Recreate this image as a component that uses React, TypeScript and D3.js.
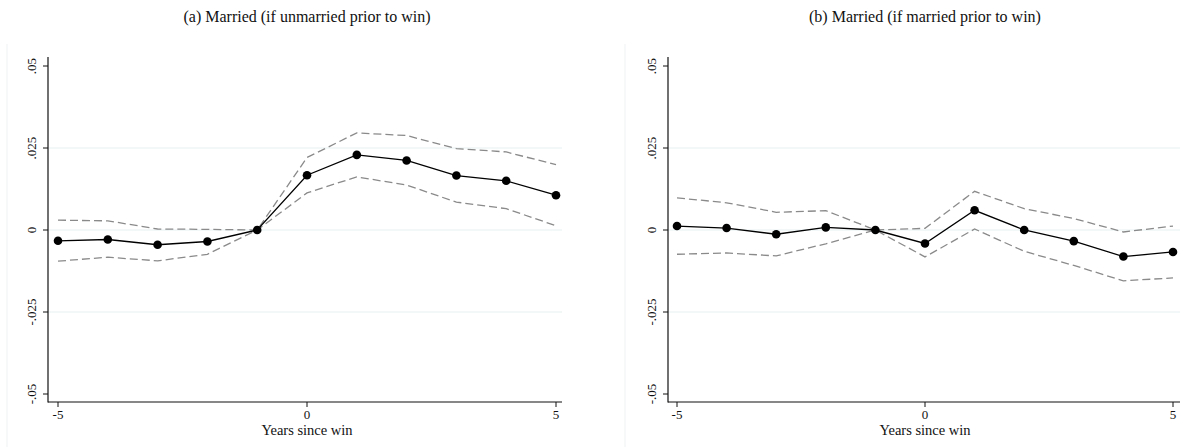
import React, { useEffect, useRef } from 'react';
import * as d3 from 'd3';

const years = [-5, -4, -3, -2, -1, 0, 1, 2, 3, 4, 5];
const xTicks = [-5, 0, 5];
const yTicks = [-0.05, -0.025, 0, 0.025, 0.05];
const yTickLabels = ['-.05', '-.025', '0', '.025', '.05'];
const gridTicks = [-0.025, 0, 0.025];

const titleA = '(a) Married (if unmarried prior to win)';
const estA = [-0.0033, -0.0029, -0.0045, -0.0035, 0, 0.0167, 0.0229, 0.0212, 0.0166, 0.015, 0.0106];
const upperA = [0.003, 0.0028, 0.0003, 0.0002, 0, 0.0221, 0.0296, 0.0288, 0.0248, 0.0238, 0.0199];
const lowerA = [-0.0095, -0.0083, -0.0094, -0.0074, 0, 0.0113, 0.0162, 0.0137, 0.0085, 0.0065, 0.0013];

const titleB = '(b) Married (if married prior to win)';
const estB = [0.0012, 0.0006, -0.0013, 0.0008, 0, -0.0041, 0.006, 0, -0.0034, -0.0081, -0.0067];
const upperB = [0.0098, 0.0083, 0.0054, 0.0059, 0, 0.0005, 0.0118, 0.0065, 0.0035, -0.0006, 0.0012];
const lowerB = [-0.0074, -0.007, -0.0079, -0.0042, 0, -0.0082, 0.0003, -0.0065, -0.0108, -0.0155, -0.0146];

const xLabel = 'Years since win';

function drawPanel(svg, opts) {
  const { left, axisX, x0, x1, axisEnd, title, est, upper, lower } = opts;
  const g = svg.append('g');
  const font = 'Liberation Serif, Times New Roman, serif';

  const x = d3.scaleLinear().domain([-5, 5]).range([x0, x1]);
  const y = d3.scaleLinear().domain([-0.05, 0.05]).range([394, 66]);

  // faint frame edge on the left
  g.append('line')
    .attr('x1', left).attr('x2', left)
    .attr('y1', 44).attr('y2', 447)
    .attr('stroke', '#eef2f3').attr('stroke-width', 1);

  g.append('text')
    .attr('x', x(0)).attr('y', 22)
    .attr('text-anchor', 'middle')
    .attr('font-family', font).attr('font-size', 16)
    .attr('fill', '#111')
    .text(title);

  g.selectAll('.grid').data(gridTicks).enter().append('line')
    .attr('x1', axisX).attr('x2', axisEnd)
    .attr('y1', d => y(d)).attr('y2', d => y(d))
    .attr('stroke', '#e6eff0').attr('stroke-width', 1);

  // y axis
  g.append('line')
    .attr('x1', axisX).attr('x2', axisX)
    .attr('y1', 57).attr('y2', 402.5)
    .attr('stroke', '#111').attr('stroke-width', 1.2);
  g.selectAll('.ytick').data(yTicks).enter().append('line')
    .attr('x1', axisX - 5).attr('x2', axisX)
    .attr('y1', d => y(d)).attr('y2', d => y(d))
    .attr('stroke', '#111').attr('stroke-width', 1);
  g.selectAll('.ylab').data(yTicks).enter().append('text')
    .attr('transform', d => `translate(${axisX - 12},${y(d)}) rotate(-90)`)
    .attr('text-anchor', 'middle')
    .attr('font-family', font).attr('font-size', 13)
    .attr('fill', '#111')
    .text((d, i) => yTickLabels[i]);

  // x axis
  g.append('line')
    .attr('x1', axisX).attr('x2', axisEnd)
    .attr('y1', 402).attr('y2', 402)
    .attr('stroke', '#111').attr('stroke-width', 1.2);
  g.selectAll('.xtick').data(xTicks).enter().append('line')
    .attr('x1', d => x(d)).attr('x2', d => x(d))
    .attr('y1', 402).attr('y2', 407)
    .attr('stroke', '#111').attr('stroke-width', 1);
  g.selectAll('.xlab').data(xTicks).enter().append('text')
    .attr('x', d => x(d)).attr('y', 419)
    .attr('text-anchor', 'middle')
    .attr('font-family', font).attr('font-size', 13)
    .attr('fill', '#111')
    .text(d => d);
  g.append('text')
    .attr('x', x(0)).attr('y', 435)
    .attr('text-anchor', 'middle')
    .attr('font-family', font).attr('font-size', 14.5)
    .attr('fill', '#111')
    .text(xLabel);

  const line = d3.line<number>()
    .x((d, i) => x(years[i]))
    .y(d => y(d));

  [upper, lower].forEach(arr => {
    g.append('path')
      .datum(arr)
      .attr('fill', 'none')
      .attr('stroke', '#8a8a8a')
      .attr('stroke-width', 1.3)
      .attr('stroke-dasharray', '8,4')
      .attr('d', line);
  });

  g.append('path')
    .datum(est)
    .attr('fill', 'none')
    .attr('stroke', '#000')
    .attr('stroke-width', 1.3)
    .attr('d', line);

  g.selectAll('.dot').data(est).enter().append('circle')
    .attr('cx', (d, i) => x(years[i]))
    .attr('cy', d => y(d))
    .attr('r', 4.3)
    .attr('fill', '#000');
}

function EventStudy() {
  const chartRef = useRef(null);

  useEffect(() => {
    const svg = d3.select(chartRef.current);
    svg.selectAll('*').remove();

    drawPanel(svg, {
      left: 7, axisX: 48, x0: 58, x1: 556, axisEnd: 562,
      title: titleA, est: estA, upper: upperA, lower: lowerA,
    });
    drawPanel(svg, {
      left: 625, axisX: 668, x0: 677, x1: 1173, axisEnd: 1180,
      title: titleB, est: estB, upper: upperB, lower: lowerB,
    });
  }, []);

  return (
    <svg ref={chartRef} width="1180" height="447"
      style={{ position: 'absolute', left: 0, top: 0, background: '#fff' }}></svg>
  );
}

export default function App() {
  return <EventStudy />;
}
